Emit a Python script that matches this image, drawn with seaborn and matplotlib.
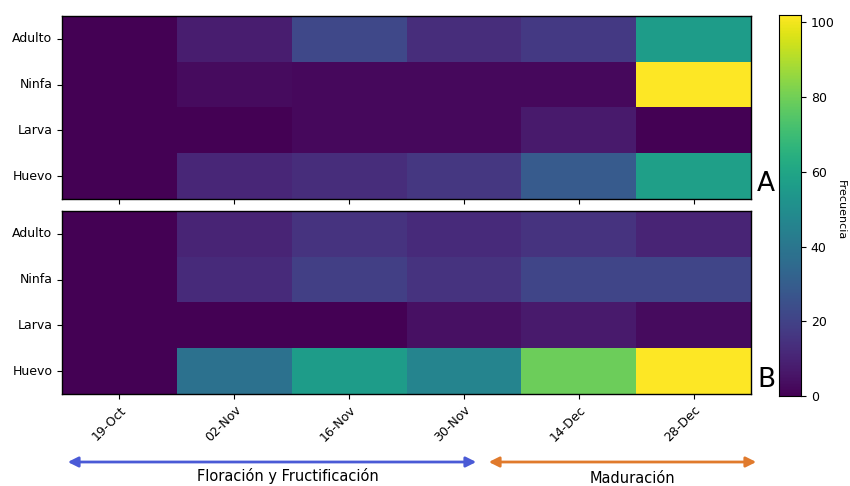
import numpy as np
import pandas as pd
import matplotlib
matplotlib.use("Agg")
import matplotlib.pyplot as plt
import seaborn as sns

dates = ["19-Oct", "02-Nov", "16-Nov", "30-Nov", "14-Dec", "28-Dec"]
stages = ["Adulto", "Ninfa", "Larva", "Huevo"]

a_adulto = [0, 8, 22, 13, 17, 56]
a_ninfa = [0, 3, 2, 2, 2, 102]
a_larva = [0, 0, 2, 2, 7, 0]
a_huevo = [0, 11, 13, 16, 29, 57]

b_adulto = [0, 10, 15, 12, 15, 10]
b_ninfa = [0, 12, 19, 15, 21, 21]
b_larva = [0, 0, 0, 4, 7, 3]
b_huevo = [0, 38, 56, 46, 79, 102]

vmax = 102

dfA = pd.DataFrame([a_adulto, a_ninfa, a_larva, a_huevo], index=stages, columns=dates)
dfB = pd.DataFrame([b_adulto, b_ninfa, b_larva, b_huevo], index=stages, columns=dates)

W, H = 850, 486
fig = plt.figure(figsize=(8.5, 4.86), dpi=100)

def fr(x0, y0, x1, y1):
    return [x0 / W, 1 - y1 / H, (x1 - x0) / W, (y1 - y0) / H]

axA = fig.add_axes(fr(62, 16, 751, 199))
axB = fig.add_axes(fr(62, 211, 751, 394))
cax = fig.add_axes(fr(779, 15, 801, 396))

sns.heatmap(dfA, ax=axA, cmap="viridis", vmin=0, vmax=vmax, cbar=True, cbar_ax=cax)
sns.heatmap(dfB, ax=axB, cmap="viridis", vmin=0, vmax=vmax, cbar=False)

for ax in (axA, axB):
    for s in ax.spines.values():
        s.set_visible(True)
        s.set_color("black")
        s.set_linewidth(1.0)
    ax.tick_params(axis="both", length=3.5, width=0.8, labelsize=9, color="black")
    ax.set_yticklabels(stages, rotation=0)
    ax.set_xlabel("")
    ax.set_ylabel("")

axA.set_xticklabels([])
axB.set_xticklabels(dates, rotation=45, ha="right", rotation_mode="anchor")

cax.tick_params(labelsize=9, length=3.5)
cax.set_yticks([0, 20, 40, 60, 80, 100])
for s in cax.spines.values():
    s.set_visible(True)
    s.set_color("black")
fig.text(841 / W, 1 - 210 / H, "Frecuencia", rotation=270, fontsize=8, ha="center", va="center")

fig.text(757 / W, 1 - 184 / H, "A", fontsize=19, va="center", ha="left")
fig.text(757 / W, 1 - 380 / H, "B", fontsize=19, va="center", ha="left")

fig.patches.append(matplotlib.patches.FancyArrowPatch(
    (65 / W, 1 - 462 / H), (479 / W, 1 - 462 / H), transform=fig.transFigure,
    arrowstyle="<|-|>", mutation_scale=15, color="#4a5ad6", lw=2))
fig.patches.append(matplotlib.patches.FancyArrowPatch(
    (486 / W, 1 - 462 / H), (759 / W, 1 - 462 / H), transform=fig.transFigure,
    arrowstyle="<|-|>", mutation_scale=15, color="#e07a2c", lw=2))

fig.text(288 / W, 1 - 476 / H, "Floración y Fructificación", fontsize=10.5, ha="center", va="center")
fig.text(632 / W, 1 - 478 / H, "Maduración", fontsize=10.5, ha="center", va="center")

fig.savefig("out.png", dpi=100)
